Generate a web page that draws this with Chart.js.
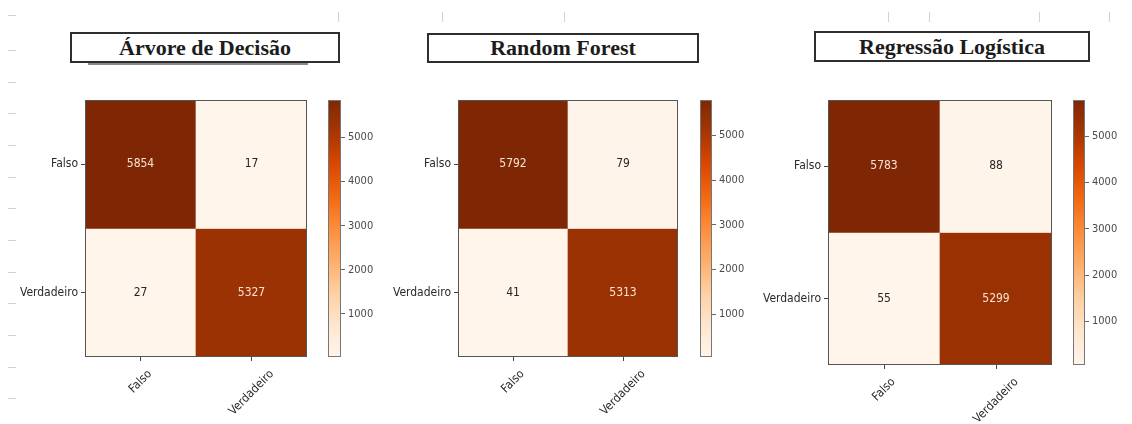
<!DOCTYPE html>
<html>
<head>
<meta charset="utf-8">
<script src="https://cdn.jsdelivr.net/npm/chart.js@4.4.1/dist/chart.umd.min.js"></script>
<style>
  html, body { margin: 0; padding: 0; background: #fff; }
  body { width: 1132px; height: 424px; position: relative; overflow: hidden; }
  .title {
    position: absolute; box-sizing: border-box; background: #fff;
    border: 2px solid #2e2e2e;
    font-family: "Liberation Serif", "Times New Roman", serif;
    font-weight: bold; font-size: 22px; color: #1c1c1c; text-align: center;
  }
  .title.shadow::after {
    content: ""; position: absolute; left: 16px; right: 30px; bottom: -4px;
    height: 2px; background: #8a8a8a;
  }
  canvas { position: absolute; }
  .mark { position: absolute; background: #d2d2d2; }
</style>
</head>
<body>
<script>
// Class labels shared by every confusion matrix
const classLabels = ['Falso', 'Verdadeiro'];
const modelNames = ['Árvore de Decisão', 'Random Forest', 'Regressão Logística'];

// Confusion matrices (rows: real class, columns: predicted class)
const arvoreMatrix = [[5854, 17], [27, 5327]];
const forestMatrix = [[5792, 79], [41, 5313]];
const logisticaMatrix = [[5783, 88], [55, 5299]];

// Colour bar tick values
const colorbarTicks = [1000, 2000, 3000, 4000, 5000];

// Sequential "Oranges" colour map
const orangesStops = ['#fff5eb', '#fee6ce', '#fdd0a2', '#fdae6b', '#fd8d3c',
                      '#f16913', '#d94801', '#a63603', '#7f2704'];

function hexToRgb(h) {
  return [parseInt(h.slice(1, 3), 16), parseInt(h.slice(3, 5), 16), parseInt(h.slice(5, 7), 16)];
}
function oranges(t) {
  t = Math.max(0, Math.min(1, t));
  const s = t * (orangesStops.length - 1);
  const i = Math.min(Math.floor(s), orangesStops.length - 2);
  const f = s - i;
  const a = hexToRgb(orangesStops[i]), b = hexToRgb(orangesStops[i + 1]);
  const c = a.map((v, k) => Math.round(v + (b[k] - v) * f));
  return `rgb(${c[0]},${c[1]},${c[2]})`;
}

// Page layout for the three panels
const layouts = [
  { matrix: arvoreMatrix,    title: modelNames[0], box: [70, 32, 270, 31], shadow: true,
    area: [85, 100, 222, 257],  bar: [328, 100, 13, 257] },
  { matrix: forestMatrix,    title: modelNames[1], box: [427, 33, 272, 30], shadow: false,
    area: [458, 100, 220, 257], bar: [700, 100, 12, 257] },
  { matrix: logisticaMatrix, title: modelNames[2], box: [814, 31, 276, 31], shadow: false,
    area: [828, 100, 224, 265], bar: [1073, 100, 12, 265] }
];

const labelFamily = '"DejaVu Sans Condensed", "DejaVu Sans", sans-serif';
const tickFont = { family: labelFamily, size: 12 };
const Y_AXIS_W = 80, X_AXIS_H = 70, PAD = 3;

function makeCanvas(left, top, w, h) {
  const c = document.createElement('canvas');
  c.width = w; c.height = h;
  c.style.left = left + 'px'; c.style.top = top + 'px';
  c.style.width = w + 'px'; c.style.height = h + 'px';
  document.body.appendChild(c);
  return c;
}

// keep the plotting area exactly where the layout puts it
function fixedFit(prop, size) {
  return s => {
    s[prop] = size;
    s.paddingTop = 0; s.paddingBottom = 0; s.paddingLeft = 0; s.paddingRight = 0;
  };
}

// Outline around the plotting area
const framePlugin = {
  id: 'frame',
  afterDatasetsDraw(chart, args, opts) {
    const { ctx, chartArea: a } = chart;
    ctx.save();
    ctx.strokeStyle = opts.color || '#555';
    ctx.lineWidth = 1;
    ctx.strokeRect(Math.round(a.left) + 0.5, Math.round(a.top) + 0.5,
                   Math.round(a.right - a.left) - 1, Math.round(a.bottom - a.top) - 1);
    ctx.restore();
  }
};

// Cell counts written at the centre of each cell
const cellTextPlugin = {
  id: 'cellText',
  afterDatasetsDraw(chart, args, opts) {
    const m = opts.matrix; if (!m) return;
    const flat = m.flat();
    const lo = Math.min(...flat), hi = Math.max(...flat);
    const { ctx } = chart;
    const xs = chart.scales.x, ys = chart.scales.y;
    ctx.save();
    ctx.font = '12px ' + labelFamily;
    ctx.textAlign = 'center';
    ctx.textBaseline = 'middle';
    m.forEach((row, i) => row.forEach((v, j) => {
      ctx.fillStyle = v > (lo + hi) / 2 ? '#f8e2d4' : '#262626';
      ctx.fillText(String(v), xs.getPixelForValue(j), ys.getPixelForValue(i + 0.5));
    }));
    ctx.restore();
  }
};

// Category names under the x axis, turned 45 degrees and centred on their ticks
const rotatedLabelPlugin = {
  id: 'rotatedLabels',
  afterDraw(chart, args, opts) {
    if (!opts.labels) return;
    const { ctx, chartArea: a } = chart;
    const xs = chart.scales.x;
    const top = a.bottom + 12;
    const h = 9, r = Math.SQRT1_2;
    ctx.save();
    ctx.font = '12px ' + labelFamily;
    ctx.fillStyle = '#2a2a2a';
    ctx.textAlign = 'center';
    ctx.textBaseline = 'middle';
    opts.labels.forEach((lab, j) => {
      const w = ctx.measureText(lab).width;
      const cx = xs.getPixelForValue(j);
      const cy = top + (w + h) * r / 2;
      ctx.save();
      ctx.translate(cx, cy);
      ctx.rotate(-Math.PI / 4);
      ctx.fillText(lab, 0, 0);
      ctx.restore();
    });
    ctx.restore();
  }
};

layouts.forEach(p => {
  // title box
  const t = document.createElement('div');
  t.className = 'title' + (p.shadow ? ' shadow' : '');
  t.textContent = p.title;
  Object.assign(t.style, {
    left: p.box[0] + 'px', top: p.box[1] + 'px',
    width: p.box[2] + 'px', height: p.box[3] + 'px',
    lineHeight: (p.box[3] - 4) + 'px'
  });
  document.body.appendChild(t);

  const flat = p.matrix.flat();
  const lo = Math.min(...flat), hi = Math.max(...flat);

  // heat map: one floating bar per cell, coloured by its count
  const [ax, ay, aw, ah] = p.area;
  const hm = makeCanvas(ax - Y_AXIS_W, ay - PAD, Y_AXIS_W + aw + PAD, PAD + ah + X_AXIS_H);
  new Chart(hm, {
    type: 'bar',
    data: {
      labels: classLabels,
      datasets: p.matrix.map((row, i) => ({
        data: row.map(() => [i, i + 1]),
        backgroundColor: row.map(v => oranges((v - lo) / (hi - lo))),
        borderWidth: 0,
        barPercentage: 1,
        categoryPercentage: 1,
        grouped: false
      }))
    },
    options: {
      responsive: false,
      animation: false,
      events: [],
      layout: { padding: { top: PAD, right: PAD, left: 0, bottom: 0 } },
      plugins: {
        legend: { display: false },
        tooltip: { enabled: false },
        frame: { color: '#555' },
        cellText: { matrix: p.matrix },
        rotatedLabels: { labels: classLabels }
      },
      scales: {
        x: {
          type: 'category',
          grid: { offset: false, drawOnChartArea: false, drawTicks: true, tickLength: 4, color: '#444' },
          border: { display: false },
          ticks: { display: false },
          afterFit: fixedFit('height', X_AXIS_H)
        },
        y: {
          type: 'linear', min: 0, max: 2, reverse: true,
          afterBuildTicks: s => { s.ticks = classLabels.map((_, i) => ({ value: i + 0.5 })); },
          ticks: {
            font: tickFont, color: '#2a2a2a', padding: 3,
            callback: v => classLabels[Math.round(v - 0.5)]
          },
          grid: { drawOnChartArea: false, drawTicks: true, tickLength: 4, color: '#444' },
          border: { display: false },
          afterFit: fixedFit('width', Y_AXIS_W)
        }
      }
    },
    plugins: [framePlugin, cellTextPlugin, rotatedLabelPlugin]
  });

  // colour bar spanning the matrix range
  const [bx, by, bw, bh] = p.bar;
  const cb = makeCanvas(bx - 2, by - PAD, 2 + bw + 45, bh + 2 * PAD);
  new Chart(cb, {
    type: 'bar',
    data: {
      labels: [''],
      datasets: [{
        data: [[lo, hi]],
        borderWidth: 0,
        barPercentage: 1,
        categoryPercentage: 1,
        backgroundColor: ctx => {
          const ch = ctx.chart;
          if (!ch.chartArea) return '#fdae6b';
          const ys = ch.scales.y;
          const g = ch.ctx.createLinearGradient(0, ys.getPixelForValue(lo), 0, ys.getPixelForValue(hi));
          orangesStops.forEach((c, k) => g.addColorStop(k / (orangesStops.length - 1), c));
          return g;
        }
      }]
    },
    options: {
      responsive: false,
      animation: false,
      events: [],
      layout: { padding: { top: PAD, bottom: PAD, left: 2, right: 0 } },
      plugins: { legend: { display: false }, tooltip: { enabled: false }, frame: { color: '#777' } },
      scales: {
        x: { display: false },
        y: {
          position: 'right', min: lo, max: hi,
          afterBuildTicks: s => { s.ticks = colorbarTicks.map(v => ({ value: v })); },
          ticks: {
            font: { family: labelFamily, size: 11 }, color: '#4a4a4a', padding: 3,
            callback: v => String(v)
          },
          grid: { drawOnChartArea: false, drawTicks: true, tickLength: 4, color: '#666' },
          border: { display: false },
          afterFit: fixedFit('width', 45)
        }
      }
    },
    plugins: [framePlugin]
  });
});

// faint guide dashes along the left and top edges of the page
[15, 50, 82, 113, 145, 177, 208, 240, 272, 303, 335, 367, 398].forEach(y => {
  const d = document.createElement('div');
  d.className = 'mark';
  Object.assign(d.style, { left: '8px', top: y + 'px', width: '8px', height: '1px' });
  document.body.appendChild(d);
});
[338, 442, 564, 888, 929, 1039, 1109].forEach(x => {
  const d = document.createElement('div');
  d.className = 'mark';
  Object.assign(d.style, { left: x + 'px', top: '12px', width: '1px', height: '10px' });
  document.body.appendChild(d);
});
</script>
</body>
</html>
